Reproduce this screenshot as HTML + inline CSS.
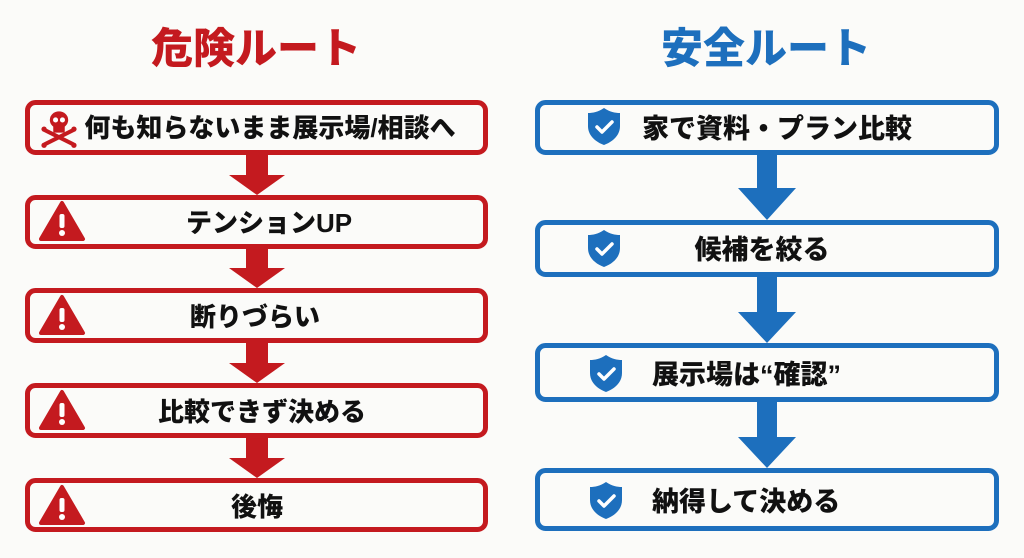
<!DOCTYPE html>
<html><head><meta charset="utf-8"><style>
html,body{margin:0;padding:0;background:#fbfbf9;}
svg{display:block;}
text{font-family:"Liberation Sans","Noto Sans CJK JP",sans-serif;font-weight:900;}
</style></head><body>
<svg width="1024" height="558" viewBox="0 0 1024 558" xmlns="http://www.w3.org/2000/svg">
<rect width="1024" height="558" fill="#fbfbf9"/>
<defs>
<g id="warn"><path d="M0,-19 L21,17 L-21,17 Z" fill="#c41a1f" stroke="#c41a1f" stroke-width="4" stroke-linejoin="round"/><rect x="-2.5" y="-8" width="5" height="14" rx="2" fill="#fff"/><circle cx="0" cy="11" r="3" fill="#fff"/></g>
<g id="shield"><path d="M0,-18 C6,-14 11,-13 16,-13 L16,0 C16,10 8,16 0,19 C-8,16 -16,10 -16,0 L-16,-13 C-11,-13 -6,-14 0,-18 Z" fill="#1d6fbd"/><path d="M-7,1 L-2,6 L8,-4" fill="none" stroke="#fff" stroke-width="3.5" stroke-linecap="round" stroke-linejoin="round"/></g>
</defs>
<text x="256" y="63" font-size="42" fill="#c41a1f" text-anchor="middle">危険ルート</text>
<text x="766" y="63" font-size="42" fill="#1d6fbd" text-anchor="middle">安全ルート</text>

<g fill="none" stroke="#c41a1f" stroke-width="5">
<rect x="27.5" y="102.5" width="458" height="50" rx="8"/>
<rect x="27.5" y="197.5" width="458" height="49" rx="8"/>
<rect x="27.5" y="290.5" width="458" height="50" rx="8"/>
<rect x="27.5" y="385.5" width="458" height="50" rx="8"/>
<rect x="27.5" y="480.5" width="458" height="49" rx="8"/>
</g>
<g fill="#c41a1f">
<path d="M246,155 H268 V175 H285 L257,195 L229,175 H246 Z"/>
<path d="M246,249 H268 V268 H285 L257,288 L229,268 H246 Z"/>
<path d="M246,343 H268 V363 H285 L257,383 L229,363 H246 Z"/>
<path d="M246,438 H268 V458 H285 L257,478 L229,458 H246 Z"/>
</g>
<g transform="translate(59,128) scale(1.15)" fill="#c41a1f">
<ellipse cx="0" cy="-7" rx="8" ry="7.5"/><rect x="-5" y="-2" width="10" height="6" rx="1"/>
<circle cx="-3" cy="-7" r="2.2" fill="#fff"/><circle cx="3" cy="-7" r="2.2" fill="#fff"/>
<path d="M-12,2 L12,14 M12,2 L-12,14" stroke="#c41a1f" stroke-width="3.5" stroke-linecap="round"/>
<circle cx="-13" cy="1" r="2.3"/><circle cx="13" cy="1" r="2.3"/><circle cx="-13" cy="15" r="2.3"/><circle cx="13" cy="15" r="2.3"/>
</g>
<use href="#warn" x="62" y="222"/>
<use href="#warn" x="62" y="316"/>
<use href="#warn" x="62" y="411"/>
<use href="#warn" x="62" y="506"/>
<g font-size="26" fill="#111">
<text x="270" y="137" text-anchor="middle" font-size="26">何も知らないまま展示場/相談へ</text>
<text x="269" y="232" text-anchor="middle">テンションUP</text>
<text x="255" y="326" text-anchor="middle">断りづらい</text>
<text x="262" y="421" text-anchor="middle">比較できず決める</text>
<text x="257" y="516" text-anchor="middle">後悔</text>
</g>

<g fill="none" stroke="#1d6fbd" stroke-width="5">
<rect x="537.5" y="102.5" width="459" height="50" rx="8"/>
<rect x="537.5" y="222.5" width="459" height="52" rx="8"/>
<rect x="537.5" y="345.5" width="459" height="54" rx="8"/>
<rect x="537.5" y="470.5" width="459" height="58" rx="8"/>
</g>
<g fill="#1d6fbd">
<path d="M757,155 H777 V188 H796 L767,220 L738,188 H757 Z"/>
<path d="M757,277 H777 V312 H796 L767,343 L738,312 H757 Z"/>
<path d="M757,402 H777 V437 H796 L767,468 L738,437 H757 Z"/>
</g>
<use href="#shield" x="604" y="126"/>
<use href="#shield" x="604" y="248"/>
<use href="#shield" x="606" y="373"/>
<use href="#shield" x="606" y="500"/>
<g font-size="27" fill="#111">
<text x="777" y="138" text-anchor="middle">家で資料・プラン比較</text>
<text x="762" y="259" text-anchor="middle">候補を絞る</text>
<text x="652" y="384">展示場は“確認”</text>
<text x="652" y="511">納得して決める</text>
</g>
</svg>
</body></html>
